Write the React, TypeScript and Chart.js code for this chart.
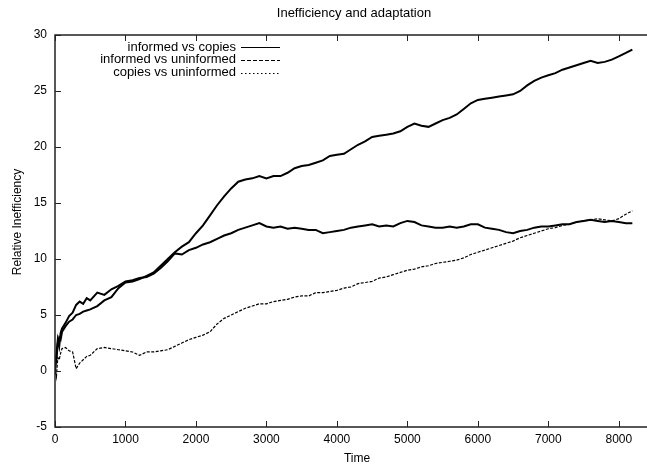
import React, { useEffect, useRef } from "react";
import { Chart, registerables } from "chart.js";

Chart.register(...registerables);

const TITLE = "Inefficiency and adaptation";
const X_TITLE = "Time";
const Y_TITLE = "Relative Inefficiency";
const SERIES_LABELS = ["informed vs copies", "informed vs uninformed", "copies vs uninformed"];

const X_TICKS = [0, 1000, 2000, 3000, 4000, 5000, 6000, 7000, 8000];
const Y_TICKS = [-5, 0, 5, 10, 15, 20, 25, 30];

const TIME = [
  0, 20, 40, 60, 80, 100, 150, 200, 250, 300, 350, 400, 450, 500,
  600, 700, 800, 900, 1000, 1100, 1200, 1300, 1400, 1500, 1600, 1700, 1800, 1900,
  2000, 2100, 2200, 2300, 2400, 2500, 2600, 2700, 2800, 2900,
  3000, 3100, 3200, 3300, 3400, 3500, 3600, 3700, 3800, 3900,
  4000, 4100, 4200, 4300, 4400, 4500, 4600, 4700, 4800, 4900,
  5000, 5100, 5200, 5300, 5400, 5500, 5600, 5700, 5800, 5900,
  6000, 6100, 6200, 6300, 6400, 6500, 6600, 6700, 6800, 6900,
  7000, 7100, 7200, 7300, 7400, 7500, 7600, 7700, 7800, 7900,
  8000, 8100, 8192,
];

const INFORMED_VS_COPIES = [
  -0.3, 1.5, 2.8, 2.2, 3.4, 3.8, 4.3, 4.9, 5.2, 5.9, 6.2, 6.0, 6.5, 6.3,
  7.0, 6.8, 7.3, 7.6, 8.0, 8.1, 8.3, 8.4, 8.7, 9.2, 9.8, 10.5, 10.4, 10.8,
  11.0, 11.3, 11.5, 11.8, 12.1, 12.3, 12.6, 12.8, 13.0, 13.2,
  12.9, 12.8, 12.9, 12.7, 12.8, 12.7, 12.6, 12.6, 12.3, 12.4,
  12.5, 12.6, 12.8, 12.9, 13.0, 13.1, 12.9, 13.0, 12.9, 13.2,
  13.4, 13.3, 13.0, 12.9, 12.8, 12.8, 12.9, 12.8, 12.9, 13.1,
  13.1, 12.8, 12.7, 12.6, 12.4, 12.3, 12.5, 12.6, 12.8, 12.9,
  12.9, 13.0, 13.1, 13.1, 13.3, 13.4, 13.5, 13.4, 13.3, 13.4,
  13.3, 13.2, 13.2,
];

const INFORMED_VS_UNINFORMED = [
  0.5, 1.0, 2.5, 3.0, 2.8, 3.5, 4.0, 4.4, 4.6, 5.0, 5.1, 5.3, 5.4, 5.5,
  5.8, 6.3, 6.6, 7.4, 7.9, 8.0, 8.2, 8.5, 8.8, 9.4, 10.0, 10.6, 11.1, 11.5,
  12.3, 13.0, 13.9, 14.8, 15.6, 16.3, 16.9, 17.1, 17.2, 17.4,
  17.2, 17.4, 17.4, 17.7, 18.1, 18.3, 18.4, 18.6, 18.8, 19.2,
  19.3, 19.4, 19.8, 20.2, 20.5, 20.9, 21.0, 21.1, 21.2, 21.4,
  21.8, 22.1, 21.9, 21.8, 22.1, 22.4, 22.6, 22.9, 23.4, 23.9,
  24.2, 24.3, 24.4, 24.5, 24.6, 24.7, 25.0, 25.5, 25.9, 26.2,
  26.4, 26.6, 26.9, 27.1, 27.3, 27.5, 27.7, 27.5, 27.6, 27.8,
  28.1, 28.4, 28.7,
];

const COPIES_VS_UNINFORMED = [
  0.3, -0.5, 1.2, 1.0, 1.6, 2.0, 2.1, 1.8, 1.7, 0.2, 0.7, 1.0, 1.3, 1.4,
  2.0, 2.1, 2.0, 1.9, 1.8, 1.7, 1.4, 1.7, 1.7, 1.8, 1.9, 2.2, 2.5, 2.8,
  3.0, 3.2, 3.5, 4.2, 4.7, 5.0, 5.3, 5.6, 5.8, 6.0,
  6.0, 6.2, 6.3, 6.4, 6.6, 6.7, 6.7, 7.0, 7.0, 7.1,
  7.2, 7.4, 7.5, 7.8, 7.9, 8.0, 8.3, 8.4, 8.6, 8.8,
  9.0, 9.1, 9.3, 9.4, 9.6, 9.7, 9.8, 9.9, 10.1, 10.4,
  10.6, 10.8, 11.0, 11.2, 11.4, 11.6, 11.9, 12.1, 12.3, 12.5,
  12.7, 12.8, 13.0, 13.1, 13.3, 13.4, 13.5, 13.6, 13.5, 13.4,
  13.6, 14.0, 14.3,
];

const FONT = "'Liberation Sans', Arial, Helvetica, sans-serif";

const decorPlugin = {
  id: "decor",
  afterDatasetsDraw(chart: any) {
    const { ctx, chartArea, scales } = chart;
    const { left, right, top, bottom } = chartArea;
    const x = scales.x;
    const y = scales.y;
    ctx.save();
    ctx.strokeStyle = "#222";
    ctx.lineWidth = 1.5;
    ctx.setLineDash([]);
    ctx.beginPath();
    ctx.moveTo(right + 2, top);
    ctx.lineTo(left, top);
    ctx.lineTo(left, bottom);
    ctx.lineTo(right + 2, bottom);
    ctx.stroke();
    ctx.lineWidth = 1;
    ctx.beginPath();
    X_TICKS.forEach((v) => {
      const px = Math.round(x.getPixelForValue(v)) + 0.5;
      ctx.moveTo(px, bottom);
      ctx.lineTo(px, bottom - 6);
      ctx.moveTo(px, top);
      ctx.lineTo(px, top + 6);
    });
    Y_TICKS.forEach((v) => {
      const py = Math.round(y.getPixelForValue(v)) + 0.5;
      ctx.moveTo(left, py);
      ctx.lineTo(left + 6, py);
    });
    ctx.stroke();

    ctx.fillStyle = "#000";
    ctx.textAlign = "center";
    ctx.textBaseline = "middle";
    ctx.font = `13px ${FONT}`;
    ctx.fillText(TITLE, 354, 13);
    ctx.font = `12px ${FONT}`;
    ctx.fillText(X_TITLE, 357, 459);
    ctx.save();
    ctx.translate(18, 222);
    ctx.rotate(-Math.PI / 2);
    ctx.fillText(Y_TITLE, 0, 0);
    ctx.restore();

    ctx.font = `13px ${FONT}`;
    ctx.textAlign = "right";
    chart.data.datasets.forEach((ds: any, i: number) => {
      const ly = 47 + i * 12.8;
      ctx.fillStyle = "#000";
      ctx.fillText(ds.label, 236, ly);
      ctx.strokeStyle = "#000";
      ctx.lineWidth = 1;
      ctx.setLineDash(ds.legendDash || []);
      ctx.beginPath();
      ctx.moveTo(241, Math.round(ly) + 0.5);
      ctx.lineTo(280, Math.round(ly) + 0.5);
      ctx.stroke();
    });
    ctx.restore();
  },
};

export default function App() {
  const canvasRef = useRef<HTMLCanvasElement | null>(null);

  useEffect(() => {
    const canvas = canvasRef.current;
    if (!canvas) return;
    const mk = (vals: number[]) => TIME.map((t, i) => ({ x: t, y: vals[i] }));
    const chart = new Chart(canvas, {
      type: "line",
      data: {
        datasets: [
          {
            label: SERIES_LABELS[0],
            data: mk(INFORMED_VS_COPIES),
            borderColor: "#000",
            borderWidth: 2,
            pointRadius: 0,
            tension: 0,
            legendDash: [],
          } as any,
          {
            label: SERIES_LABELS[1],
            data: mk(INFORMED_VS_UNINFORMED),
            borderColor: "#000",
            borderWidth: 2,
            pointRadius: 0,
            tension: 0,
            legendDash: [4, 2],
          } as any,
          {
            label: SERIES_LABELS[2],
            data: mk(COPIES_VS_UNINFORMED),
            borderColor: "#000",
            borderWidth: 1.2,
            borderDash: [3, 1.5],
            pointRadius: 0,
            tension: 0,
            legendDash: [1.5, 2.5],
          } as any,
        ],
      },
      options: {
        animation: false,
        responsive: false,
        maintainAspectRatio: false,
        layout: { padding: { top: 35, right: 0, left: 0, bottom: 0 } },
        plugins: {
          legend: { display: false },
          title: { display: false },
          tooltip: { enabled: false },
        },
        scales: {
          x: {
            type: "linear",
            min: 0,
            max: 8400,
            afterBuildTicks: (s: any) => {
              s.ticks = X_TICKS.map((v) => ({ value: v }));
            },
            afterFit: (s: any) => {
              s.height = 41;
              s.paddingLeft = 0;
              s.paddingRight = 0;
            },
            ticks: {
              color: "#000",
              font: { family: FONT, size: 12 },
              padding: 5,
              maxRotation: 0,
              autoSkip: false,
              callback: (v: any) => String(v),
            },
            grid: { display: false, drawTicks: false },
            border: { display: false },
          },
          y: {
            type: "linear",
            min: -5,
            max: 30,
            afterBuildTicks: (s: any) => {
              s.ticks = Y_TICKS.map((v) => ({ value: v }));
            },
            afterFit: (s: any) => {
              s.width = 55;
            },
            ticks: {
              color: "#000",
              font: { family: FONT, size: 12 },
              padding: 8,
              autoSkip: false,
              callback: (v: any) => String(v),
            },
            grid: { display: false, drawTicks: false },
            border: { display: false },
          },
        },
      },
      plugins: [decorPlugin],
    });
    return () => chart.destroy();
  }, []);

  return (
    <div style={{ position: "fixed", left: 0, top: 0, width: 647, height: 468, background: "#fff" }}>
      <canvas ref={canvasRef} width={647} height={468} style={{ display: "block" }} />
    </div>
  );
}
